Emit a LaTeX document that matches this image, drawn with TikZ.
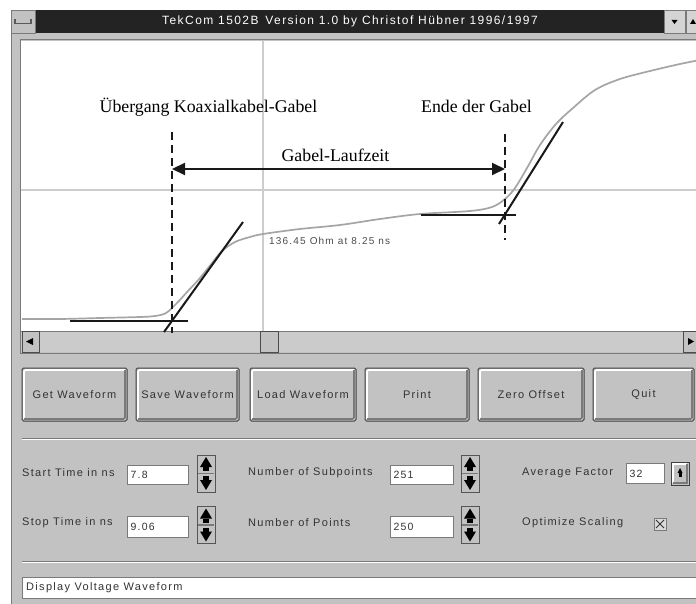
\documentclass[tikz,border=0pt]{standalone}
\usepackage{fontspec}
\setmainfont{Liberation Serif}
\newfontfamily\ui[LetterSpace=12]{Liberation Sans}
\usetikzlibrary{arrows.meta}
\definecolor{wingray}{HTML}{C2C2C2}
\definecolor{titledark}{HTML}{232323}
\definecolor{gridgray}{HTML}{CDCDCD}
\definecolor{curvegray}{HTML}{A5A5A5}
\definecolor{shadow}{HTML}{7A7A7A}
\definecolor{uitext}{HTML}{333333}
\tikzset{
  lbl/.style={font=\fontsize{17.8}{20}\selectfont, anchor=base, inner sep=0},
  uitxt/.style={font=\ui\fontsize{11}{13}\selectfont, text=uitext, inner sep=0},
  btn/.style={draw=black!75, fill=wingray, line width=1pt, rounded corners=1.5pt,
    inner sep=0, font=\ui\fontsize{11}{13}\selectfont, text=uitext,
    path picture={
      \draw[white, line width=1.6pt] ([shift={(2pt,2pt)}]path picture bounding box.south west)
        -- ([shift={(2pt,-2pt)}]path picture bounding box.north west)
        -- ([shift={(-2pt,-2pt)}]path picture bounding box.north east);
      \draw[shadow, line width=1.6pt] ([shift={(2pt,2pt)}]path picture bounding box.south west)
        -- ([shift={(-2pt,2pt)}]path picture bounding box.south east)
        -- ([shift={(-2pt,-2pt)}]path picture bounding box.north east);
    }},
  entry/.style={draw=shadow, fill=white, line width=1pt, inner sep=0,
    font=\ui\fontsize{10.5}{12}\selectfont, text=uitext, align=left},
  spin/.style={draw=shadow!70!black, fill=wingray, line width=0.8pt,
    minimum width=18, minimum height=37, inner sep=0,
    path picture={
      \fill[black] ([yshift=-2pt]path picture bounding box.north)
        -- ([shift={(-6pt,-12pt)}]path picture bounding box.north)
        -- ([shift={(6pt,-12pt)}]path picture bounding box.north) -- cycle;
      \fill[black] ([shift={(-3pt,-12pt)}]path picture bounding box.north)
        rectangle ([shift={(3pt,-16pt)}]path picture bounding box.north);
      \fill[black] ([yshift=2pt]path picture bounding box.south)
        -- ([shift={(-6pt,12pt)}]path picture bounding box.south)
        -- ([shift={(6pt,12pt)}]path picture bounding box.south) -- cycle;
      \fill[black] ([shift={(-3pt,12pt)}]path picture bounding box.south)
        rectangle ([shift={(3pt,16pt)}]path picture bounding box.south);
      \draw[shadow, line width=1.2pt] ([xshift=-8pt]path picture bounding box.center)
        -- ([xshift=8pt]path picture bounding box.center);
    }},
  smallbtn/.style={draw=black!70, fill=wingray, line width=0.8pt, inner sep=0},
  blk/.style={line width=2pt, black!90},
  dsh/.style={line width=2pt, black!90, dash pattern=on 8pt off 5pt}
}
\begin{document}
\begin{tikzpicture}[x=1pt,y=-1pt]
\useasboundingbox (0,0) rectangle (696,604);
% window background
\fill[white] (0,0) rectangle (696,604);
\fill[wingray] (11,10) rectangle (700,610);
\draw[shadow, line width=1pt] (11.5,10) -- (11.5,604);
% title bar
\fill[titledark] (35,10) rectangle (664,33);
\node[font=\ui\fontsize{12}{14}\selectfont, text=white, inner sep=0] (title) at (350,21.5)
  {TekCom 1502B\, Version 1.0 by Christof Hübner 1996/1997};
\node[draw=shadow, fill=wingray, minimum width=24, minimum height=23, inner sep=0] (sys) at (23,21.5) {};
\draw[black!65, line width=1.2pt] (15,19) -- (15,23.5) -- (31,23.5) -- (31,19);
\node[draw=shadow, fill=wingray!70!white, minimum width=21, minimum height=23, inner sep=0] (minbtn) at (674.5,21.5) {};
\fill[black] (671.5,20) -- (677.5,20) -- (674.5,24) -- cycle;
\node[draw=shadow, fill=wingray!70!white, minimum width=14, minimum height=23, inner sep=0, anchor=west] (maxbtn) at (686,21.5) {};
\fill[black] (690,24) -- (696,24) -- (693,19) -- cycle;
% plot frame
\draw[shadow, line width=1pt] (20,40) rectangle (702,353);
\fill[white] (21,41) rectangle (700,331);
% grid
\draw[gridgray, line width=1.6pt] (263,41) -- (263,331);
\draw[gridgray, line width=1.6pt] (21,190) -- (700,190);
% waveform
\draw[curvegray, line width=1.7pt] plot[smooth, tension=0.55] coordinates {
 (22,319) (60,319) (100,318) (140,317) (155,316) (166,313) (176,304) (188,291)
 (200,278) (212,263) (222,251) (235,242) (250,237) (263,234) (300,229) (340,225)
 (380,219) (420,214) (470,211) (492,207) (505,199) (515,188) (527,168) (540,145)
 (556,124) (573,108) (595,90) (620,79) (650,71) (680,64) (700,60)};
\node[font=\ui\fontsize{10}{12}\selectfont, text=black!70, anchor=west, inner sep=0] (ohm) at (269,241) {136.45 Ohm at 8.25 ns};
% scrollbar
\fill[wingray!85!white] (21,331) rectangle (700,352);
\draw[shadow, line width=1pt] (21,331.5) -- (700,331.5);
\node[smallbtn, minimum width=17, minimum height=21, anchor=north west] (sleft) at (22,331) {};
\fill[black] (26,341.5) -- (33,338) -- (33,345) -- cycle;
\node[smallbtn, minimum width=18, minimum height=21, anchor=north west] (thumb) at (260,331) {};
\node[smallbtn, minimum width=14, minimum height=21, anchor=north west] (sright) at (683,331) {};
\fill[black] (694,341.5) -- (688,338) -- (688,345) -- cycle;
% annotation
\coordinate (d1t) at (172,132); \coordinate (d1b) at (172,333);
\coordinate (d2t) at (505,134); \coordinate (d2b) at (505,240);
\coordinate (h1a) at (70,321); \coordinate (h1b) at (188,321);
\coordinate (s1a) at (164,332); \coordinate (s1b) at (243,222);
\coordinate (h2a) at (421,215); \coordinate (h2b) at (516,215);
\coordinate (s2a) at (499,224); \coordinate (s2b) at (563,122);
\coordinate (al) at (172,169); \coordinate (ar) at (505,169);
\draw[dsh] (d1t) -- (d1b);
\draw[dsh] (d2t) -- (d2b);
\draw[blk] (h1a) -- (h1b);
\draw[blk] (s1a) -- (s1b);
\draw[blk] (h2a) -- (h2b);
\draw[blk] (s2a) -- (s2b);
\draw[blk, {Triangle[length=13pt,width=12pt]}-{Triangle[length=13pt,width=12pt]}] (al) -- (ar);
\node[lbl] (uebergang) at (208.5,112.5) {Übergang Koaxialkabel-Gabel};
\node[lbl] (ende) at (476.5,112.5) {Ende der Gabel};
\node[lbl] (laufzeit) at (335.5,161.5) {Gabel-Laufzeit};
% buttons
\node[btn, minimum width=105, minimum height=53] (getwf) at (74.5,394.5) {Get Waveform};
\node[btn, minimum width=103, minimum height=53] (savewf) at (187.5,394.5) {Save Waveform};
\node[btn, minimum width=106, minimum height=53] (loadwf) at (303,394.5) {Load Waveform};
\node[btn, minimum width=104, minimum height=53] (print) at (417,394.5) {Print};
\node[btn, minimum width=106, minimum height=53] (zero) at (531,394.5) {Zero Offset};
\node[btn, minimum width=101, minimum height=53] (quit) at (643.5,394.5) {Quit};
% separators
\draw[shadow, line width=1pt] (22,438.5) -- (700,438.5);
\draw[white, line width=1pt] (22,439.8) -- (700,439.8);
\draw[shadow, line width=1pt] (22,561.5) -- (700,561.5);
\draw[white, line width=1pt] (22,562.8) -- (700,562.8);
% labels
\node[uitxt, anchor=west] (lstart) at (22,473) {Start Time in ns};
\node[uitxt, anchor=west] (lstop) at (22,523) {Stop Time in ns};
\node[uitxt, anchor=west] (lsub) at (248,473) {Number of Subpoints};
\node[uitxt, anchor=west] (lpts) at (248,523) {Number of Points};
\node[uitxt, anchor=west] (lavg) at (522,473) {Average Factor};
\node[uitxt, anchor=west] (lopt) at (522,523) {Optimize Scaling};
% entries
\node[entry, minimum width=61, minimum height=19, text width=55, anchor=north west] (estart) at (127,465) {7.8};
\node[entry, minimum width=61, minimum height=21, text width=55, anchor=north west] (estop) at (127,516) {9.06};
\node[entry, minimum width=63, minimum height=19, text width=57, anchor=north west] (esub) at (390,465) {251};
\node[entry, minimum width=63, minimum height=21, text width=57, anchor=north west] (epts) at (390,516) {250};
\node[entry, minimum width=38, minimum height=20, text width=32, anchor=north west] (eavg) at (626,463) {32};
% spin buttons
\node[spin] (spstart) at (206,473.5) {};
\node[spin] (spstop) at (206,525) {};
\node[spin] (spsub) at (470,473.5) {};
\node[spin] (sppts) at (470,525) {};
% average button
\node[btn, minimum width=18, minimum height=23, rounded corners=0pt] (avgbtn) at (680,473.5) {};
\fill[black] (680,468) -- (677.5,473) -- (682.5,473) -- cycle;
\fill[black] (678.5,473) rectangle (681.5,477);
% checkbox
\node[draw=shadow, fill=wingray!60!white, minimum width=12, minimum height=12, inner sep=0] (chk) at (660,524) {};
\draw[black!80, line width=1pt] (656,520) -- (664,528) (664,520) -- (656,528);
% status bar
\node[draw=shadow, fill=white, line width=1pt, minimum width=680, minimum height=21, anchor=north west, inner sep=0] (statusbox) at (22,577) {};
\node[uitxt, anchor=west] (status) at (26,587.5) {Display Voltage Waveform};
\end{tikzpicture}
\end{document}
